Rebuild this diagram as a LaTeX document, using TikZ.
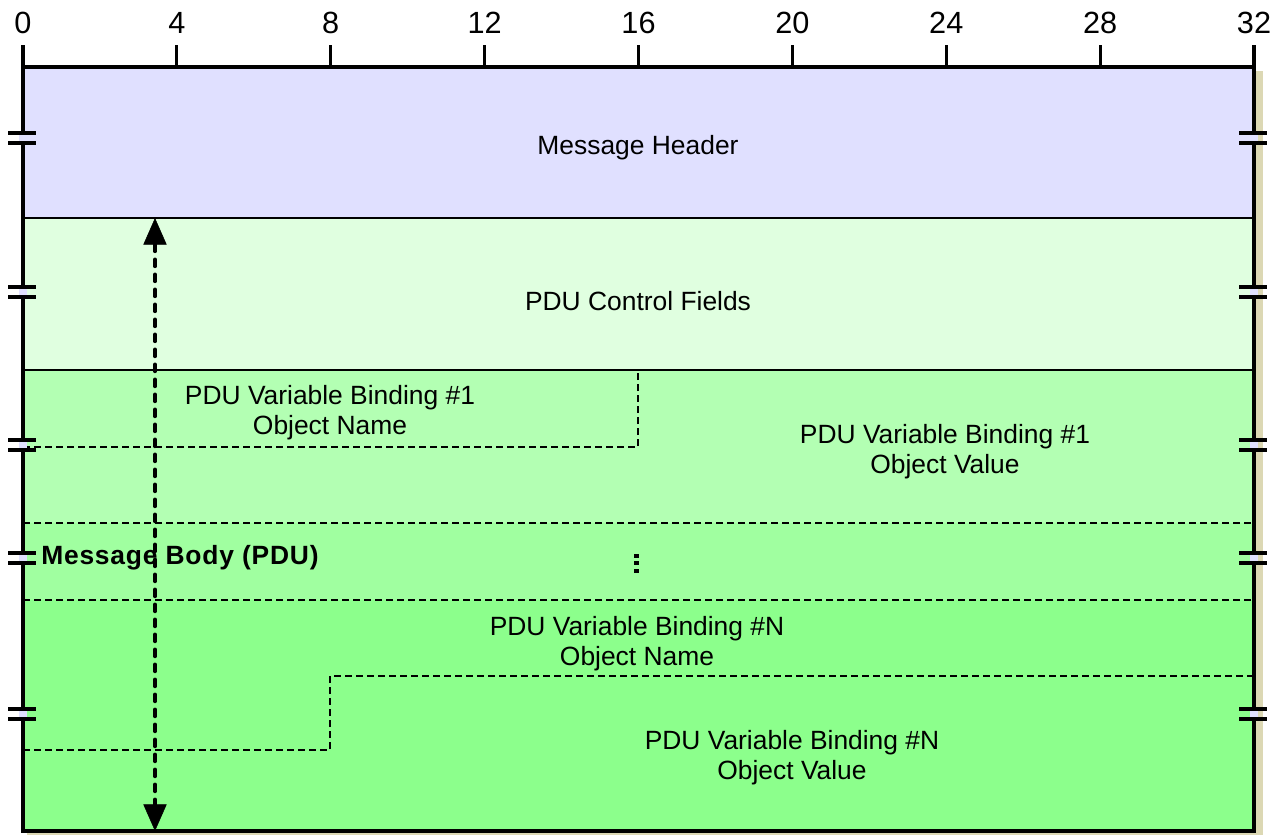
\documentclass[tikz,border=0pt]{standalone}
\usepackage{fontspec}
\setmainfont{Liberation Sans}
\usetikzlibrary{arrows.meta}
\definecolor{hdrc}{HTML}{E0E0FF}
\definecolor{ctlc}{HTML}{E0FFE0}
\definecolor{rowa}{HTML}{B3FFB3}
\definecolor{rowb}{HTML}{A0FFA0}
\definecolor{rowc}{HTML}{8CFF8C}
\definecolor{shadc}{HTML}{DCD8B4}
\begin{document}
\begin{tikzpicture}[x=0.75pt,y=-0.75pt,
  lbl/.style={font=\fontsize{19.8}{22.5}\selectfont, align=center, inner sep=0pt},
  rul/.style={font=\fontsize{23}{26}\selectfont, inner sep=0pt},
  sepline/.style={line width=1.5pt},
  dsh/.style={line width=1.2pt, dash pattern=on 5.25pt off 3pt},
  brk/.style={line width=3pt},
  frame/.style={line width=2.4pt},
  dimarrow/.style={line width=3pt, dash pattern=on 5pt off 6.25pt, line cap=round,
    {Triangle[length=20pt,width=17.5pt,line width=0.4pt]}-{Triangle[length=20pt,width=17.5pt,line width=0.4pt]}}]
\useasboundingbox (0,0) rectangle (1280,835);
% shadow and fills
\fill[shadc] (27,71) rectangle (1263,835);
\fill[hdrc] (23,67) rectangle (1254,218);
\fill[ctlc] (23,218) rectangle (1254,370);
\fill[rowa] (23,370) rectangle (1254,523);
\fill[rowb] (23,523) rectangle (1254,600);
\fill[rowc] (23,600) rectangle (1254,831);
% separators
\draw[sepline] (23,218) -- (1254,218);
\draw[sepline] (23,370) -- (1254,370);
\draw[dsh] (23,447) -- (638,447) -- (638,370);
\draw[dsh] (23,523) -- (1254,523);
\draw[dsh] (23,600) -- (1254,600);
\draw[dsh] (23,750) -- (330,750) -- (330,676) -- (1254,676);
% frame
\draw[frame] (23,67) rectangle (1254,831);
% ruler
\foreach \i in {0,...,8} {
  \pgfmathsetmacro{\xx}{23+\i*153.875}
  \pgfmathtruncatemacro{\nn}{4*\i}
  \draw[frame] (\xx,45) -- (\xx,67);
  \node[rul] (r\i) at (\xx,23) {\nn};
}
% break marks
\foreach \yy in {138,292,445,558,714} {
  \foreach \xx in {23,1254} {
    \fill[hdrc] (\xx-4,\yy-4) rectangle (\xx+4,\yy+4);
    \draw[brk] (\xx-15,\yy-5) -- (\xx+13,\yy-5);
    \draw[brk] (\xx-15,\yy+5) -- (\xx+13,\yy+5);
  }
}
% labels
\node[lbl] (hdr) at (638,148) {Message Header};
\node[lbl] (ctl) at (638,301) {PDU Control Fields};
\node[lbl] (b1n) at (330,413) {PDU Variable Binding \#1\\Object Name};
\node[lbl] (b1v) at (945,452) {PDU Variable Binding \#1\\Object Value};
\node[lbl] (bnn) at (637,644) {PDU Variable Binding \#N\\Object Name};
\node[lbl] (bnv) at (792,758) {PDU Variable Binding \#N\\Object Value};
% ellipsis
\foreach \yy in {556,563,571} { \fill (634,\yy-2) rectangle (638.5,\yy+2); }
% arrow
\coordinate (atop) at (155,218);
\coordinate (abot) at (155,831);
\draw[dimarrow] (atop) -- (abot);
% body label
\node[lbl, anchor=west, font=\fontsize{19.8}{22.5}\selectfont\bfseries\addfontfeatures{LetterSpace=3}] (body) at (41,558) {Message Body (PDU)};
\end{tikzpicture}
\end{document}
